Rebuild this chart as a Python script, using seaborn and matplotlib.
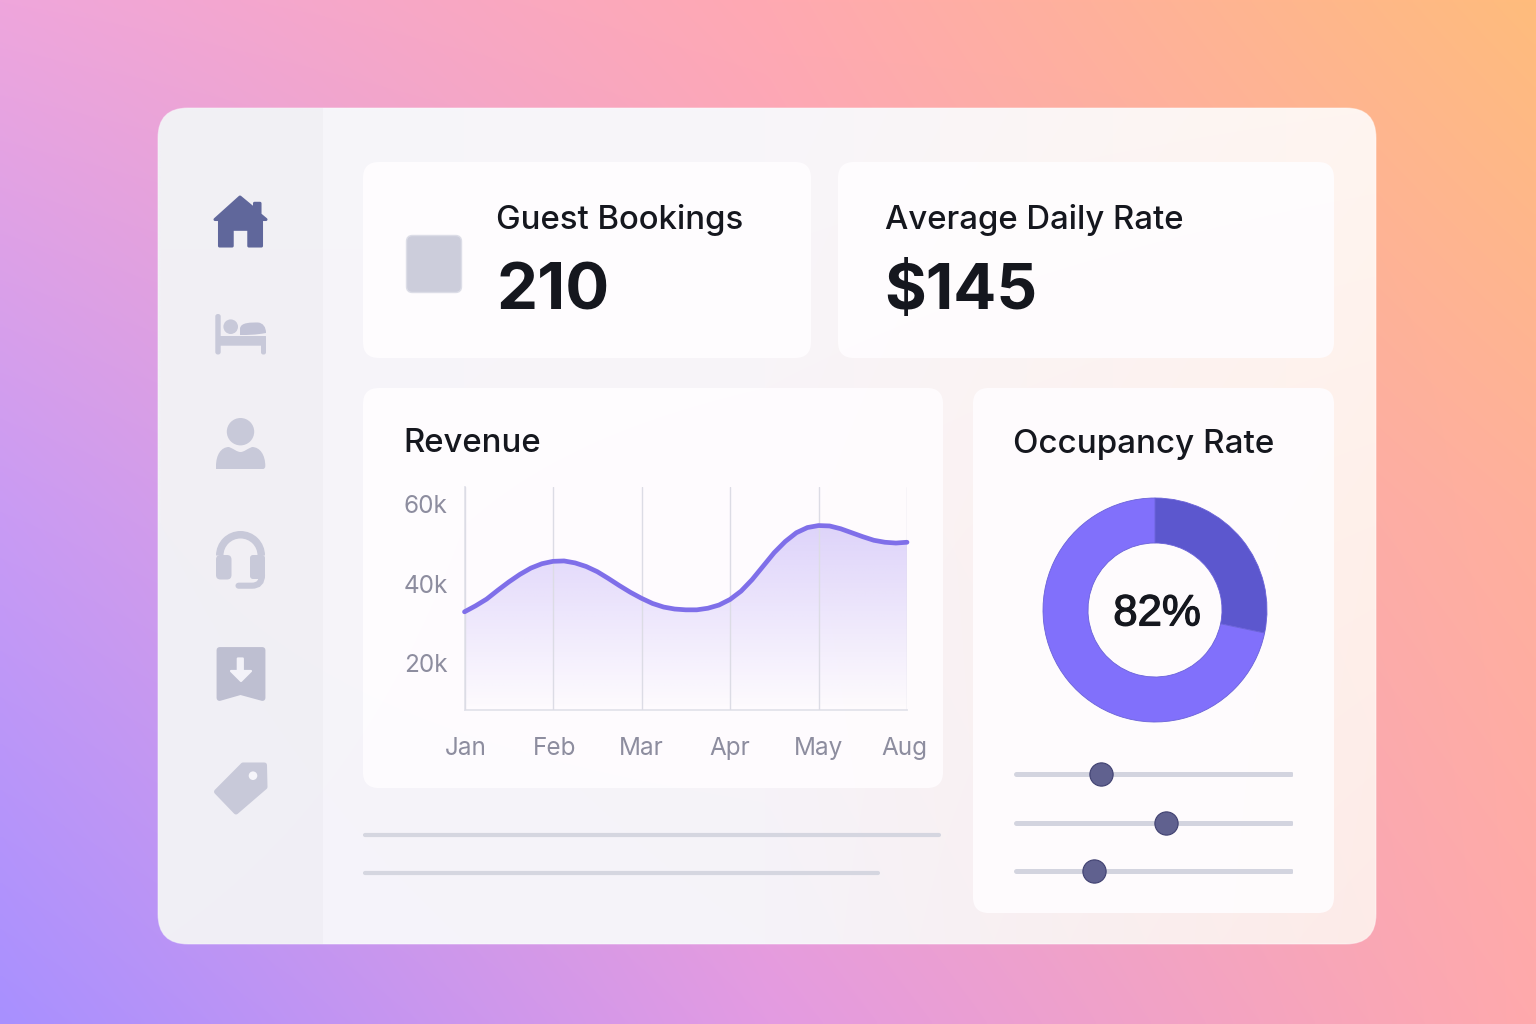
import numpy as np
import pandas as pd
import matplotlib
matplotlib.use("Agg")
import matplotlib.pyplot as plt
import matplotlib.patheffects as pe
from matplotlib.transforms import ScaledTranslation
import seaborn as sns
from matplotlib.patches import FancyBboxPatch, Polygon, Circle, Wedge, PathPatch
from matplotlib.path import Path
from matplotlib.colors import to_rgb

# ---------- data ----------
months = ["Jan", "Feb", "Mar", "Apr", "May", "Aug"]
revenue_pos = [i / 8 for i in range(41)]
revenue_k = [32.9, 34.4, 36.1, 38.3, 40.4, 42.3, 43.9, 45.0, 45.6, 45.7, 45.2, 44.3, 43.0, 41.3,
             39.5, 37.8, 36.3, 35.0, 34.1, 33.6, 33.4, 33.4, 33.8, 34.6, 36.0, 38.1, 41.0, 44.4,
             47.8, 50.6, 52.8, 54.1, 54.6, 54.5, 53.8, 52.8, 51.8, 50.9, 50.4, 50.2, 50.4]
revenue_ticks = [20, 40, 60]
revenue_ticklabels = ["20k", "40k", "60k"]
donut_shares = [28.3, 71.7]
donut_label = "82%"
slider_values = [0.312, 0.545, 0.287]
kpi_titles = ["Guest Bookings", "Average Daily Rate"]
kpi_values = ["210", "$145"]

W, H = 1536, 1024
sns.set_theme(style="white")
plt.rcParams["font.family"] = ["Inter", "Liberation Sans", "DejaVu Sans"]

fig = plt.figure(figsize=(W / 100, H / 100), dpi=100)
bg = fig.add_axes([0, 0, 1, 1], zorder=0)
bg.set_xlim(0, W); bg.set_ylim(H, 0); bg.axis("off")


def pax(x0, y0, x1, y1, **kw):
    return fig.add_axes([x0 / W, 1 - y1 / H, (x1 - x0) / W, (y1 - y0) / H], **kw)


def grid_image(rows, nx, ny):
    cols = np.array([[to_rgb(c) for c in r] for r in rows])
    yy = np.linspace(0, 2, ny)
    xx = np.linspace(0, 2, nx)
    img = np.zeros((ny, nx, 3))
    for c in range(3):
        for i, y in enumerate(yy):
            row = [np.interp(y, [0, 1, 2], cols[:, j, c]) for j in range(3)]
            img[i, :, c] = np.interp(xx, [0, 1, 2], row)
    return img


# ---------- background gradient ----------
bg.imshow(grid_image([["#EFA6DC", "#FFA9B2", "#FFBC7C"],
                      ["#C99BF4", "#F5A2C8", "#FFB09C"],
                      ["#A890FF", "#E39BE2", "#FFA9AC"]], W // 4, H // 4),
          extent=(0, W, H, 0), aspect="auto", interpolation="bilinear", zorder=0)
bg.set_xlim(0, W); bg.set_ylim(H, 0)


def rrect(ax, x0, y0, x1, y1, r, **kw):
    kw.setdefault("linewidth", 0)
    p = FancyBboxPatch((x0, y0), x1 - x0, y1 - y0, boxstyle=f"round,pad=0,rounding_size={r}", **kw)
    ax.add_patch(p)
    return p


# ---------- panel and sidebar ----------
panel = rrect(bg, 158, 108, 1376, 944, 30, facecolor="none", zorder=1)
pim = bg.imshow(grid_image([["#F6F5FA", "#F8F6FA", "#FFF5F0"],
                            ["#F6F5FA", "#F8F3F7", "#FFF0EA"],
                            ["#F5F4FB", "#F5F3F9", "#FDEBE8"]], 200, 140),
                extent=(158, 1376, 944, 108), aspect="auto", interpolation="bilinear", zorder=1)
pim.set_clip_path(panel)
bg.set_xlim(0, W); bg.set_ylim(H, 0)
rrect(bg, 158, 108, 1376, 944, 30, facecolor="none", edgecolor=(1, 1, 1, 0.45), linewidth=0.8, zorder=2)
side = bg.add_patch(plt.Rectangle((158, 108), 165, 836, facecolor="#CFCFD8", alpha=0.12, linewidth=0, zorder=2))
side.set_clip_path(panel)

# ---------- cards ----------
for box in [(363, 162, 811, 358), (838, 162, 1334, 358), (363, 388, 943, 788), (973, 388, 1334, 913)]:
    rrect(bg, *box, 16, facecolor="#FFFDFF", alpha=0.90, zorder=3)

# KPI placeholder
rrect(bg, 406.5, 235.5, 461.5, 292.5, 6, facecolor="#CCCDDB", edgecolor="#DCDDE7", linewidth=1, zorder=4)

INK = "#15171E"
bg.text(496, 229.5, kpi_titles[0], fontsize=23.7, color=INK, fontweight="medium", va="baseline", zorder=5)
bg.text(885, 229.5, kpi_titles[1], fontsize=23.7, color=INK, fontweight="medium", va="baseline", zorder=5)
bg.text(497, 309, kpi_values[0], fontsize=47, color=INK, fontweight="bold", va="baseline", zorder=5)
bg.text(884, 309, kpi_values[1], fontsize=46, color=INK, fontweight="bold", va="baseline", zorder=5)
bg.text(403, 452.5, "Revenue", fontsize=23.7, color=INK, fontweight="medium", va="baseline", zorder=5)
bg.text(1013, 452.5, "Occupancy Rate", fontsize=23.9, color=INK, fontweight="medium", va="baseline", zorder=5)

# ---------- bottom placeholder lines ----------
for x1, y in [(941, 835), (880, 873)]:
    bg.plot([365, x1 - 2], [y, y], color="#D5D6E0", lw=3, solid_capstyle="round", zorder=4)

# ---------- sidebar icons ----------
DARK = "#60679B"
SOFT = "#C8C9D9"
ZI = 6


def poly(pts, color=SOFT, lw=2.0):
    bg.add_patch(Polygon(pts, closed=True, facecolor=color, edgecolor=color, linewidth=lw, joinstyle="round", zorder=ZI))


# house
poly([(240, 197), (254.5, 209), (254.5, 203.3), (260, 203.3), (260, 214.5), (266, 219.5),
      (261.5, 219.5), (261.5, 246), (248.8, 246), (248.8, 229.3), (232.2, 229.3), (232.2, 246),
      (219.5, 246), (219.5, 219.5), (215, 219.5)], color=DARK, lw=2.2)

# bed
rrect(bg, 215.3, 314, 220.7, 354.5, 2.5, facecolor=SOFT, zorder=ZI)
rrect(bg, 219, 336, 266, 345.7, 0.5, facecolor=SOFT, zorder=ZI)
rrect(bg, 261, 340, 266, 354.5, 2.2, facecolor=SOFT, zorder=ZI)
bg.add_patch(Circle((230.7, 326.7), 7.3, facecolor=SOFT, linewidth=0, zorder=ZI))
bg.add_patch(PathPatch(Path([(240, 329), (240, 322), (252, 322.5), (258, 322.5), (263, 323), (266, 327), (266, 333),
                             (255, 335), (248, 335), (240, 335), (240, 329)],
                            [Path.MOVETO, Path.CURVE4, Path.CURVE4, Path.CURVE4, Path.CURVE4, Path.CURVE4, Path.CURVE4,
                             Path.CURVE4, Path.CURVE4, Path.CURVE4, Path.CLOSEPOLY]),
                       facecolor="#C2C3D6", linewidth=0, zorder=ZI))

# person
bg.add_patch(Circle((240.5, 431.7), 13.7, facecolor=SOFT, linewidth=0, zorder=ZI))
bg.add_patch(PathPatch(Path([(216, 466), (216, 455), (221, 447), (229, 447), (234, 449), (237, 452), (240.5, 452),
                             (244, 452), (247, 449), (252, 447), (260, 447), (265.3, 455), (265.3, 466),
                             (265.3, 469), (263, 469), (262, 469), (219, 469), (219, 469), (216, 469), (216, 466), (216, 466)],
                            [Path.MOVETO] + [Path.CURVE4] * 12 + [Path.CURVE3, Path.CURVE3, Path.LINETO, Path.CURVE4, Path.CURVE4, Path.CURVE4, Path.LINETO, Path.CLOSEPOLY]),
                       facecolor=SOFT, linewidth=0, zorder=ZI))

# headset
bg.add_patch(Wedge((240.5, 555.5), 24.5, 180, 360, width=7.5, facecolor=SOFT, linewidth=0, zorder=ZI))
rrect(bg, 216, 555, 231.5, 579.5, 4.5, facecolor=SOFT, zorder=ZI)
rrect(bg, 250, 555, 265, 579, 3, facecolor=SOFT, zorder=ZI)
bg.add_patch(PathPatch(Path([(238.5, 585.7), (252, 585.7), (262, 585.7), (262, 575)],
                            [Path.MOVETO, Path.LINETO, Path.CURVE3, Path.CURVE3]),
                       facecolor="none", edgecolor=SOFT, linewidth=4.4, capstyle="round", zorder=ZI))

# bookmark with arrow
poly([(219.5, 650), (262.5, 650), (262.5, 698), (240.5, 692), (219.5, 698)], color="#BEBFD1", lw=4.2)
poly([(237.8, 658.5), (242.8, 658.5), (242.8, 671), (251, 671), (241, 681), (231, 671), (237.8, 671)], color="#F3F2F8", lw=1.6)

# tag
poly([(243, 765), (264.5, 765), (265, 787), (236, 812), (216.5, 791.7)], color=SOFT, lw=3.6)
bg.add_patch(Circle((253, 775.7), 4.3, facecolor="#F6F5FA", linewidth=0, zorder=ZI + 1))

# ---------- revenue chart ----------
TICK = "#8D8D9F"
ax = pax(464.5, 487, 907, 710, zorder=2)
ax.patch.set_alpha(0)
x_lim, y_lim = (0, 5), (8.2, 64.3)
df = pd.DataFrame({"pos": revenue_pos, "revenue": revenue_k})
fill = ax.fill_between(df["pos"], y_lim[0], df["revenue"], color="none", linewidth=0)
grad = np.zeros((128, 2, 4))
grad[..., :3] = to_rgb("#7C5CF0")
grad[..., 3] = np.linspace(0.25, 0.0, 128)[:, None]
im = ax.imshow(grad, extent=(0, 5, y_lim[0], 54.5), aspect="auto", origin="upper", interpolation="bilinear", zorder=1)
im.set_clip_path(fill.get_paths()[0], transform=ax.transData)
sns.lineplot(data=df, x="pos", y="revenue", ax=ax, color="#7F6FE9", linewidth=3.4, zorder=4, legend=False,
             solid_capstyle="round", solid_joinstyle="round", errorbar=None)
ax.lines[-1].set_clip_on(False)
ax.set_xlim(*x_lim); ax.set_ylim(*y_lim)
ax.set_xticks(range(len(months)), months)
ax.set_yticks(revenue_ticks, revenue_ticklabels)
ax.set_xlabel(""); ax.set_ylabel("")
ax.grid(axis="x", color="#DCDCE5", linewidth=1.0, zorder=2)
ax.grid(axis="y", visible=False)
ax.set_axisbelow(False)
for s in ["top", "right"]:
    ax.spines[s].set_visible(False)
for s in ["left", "bottom"]:
    ax.spines[s].set_color("#E3E3EB")
    ax.spines[s].set_linewidth(1.3)
ax.tick_params(axis="x", length=0, pad=19.5, labelsize=17.5, labelcolor=TICK)
ax.tick_params(axis="y", length=0, pad=12, labelsize=17.5, labelcolor=TICK)
for lab, dx in zip(ax.get_xticklabels(), [1, 2, 0, 0, 0, -2.3]):
    lab.set_transform(lab.get_transform() + ScaledTranslation(dx / 100, 0, fig.dpi_scale_trans))

# ---------- donut ----------
dax = pax(1043, 498, 1267, 722, zorder=2)
dax.patch.set_alpha(0)
dax.pie(donut_shares, colors=["#5C57CE", "#8170FB"], startangle=90, counterclock=False, radius=1.0,
        wedgeprops=dict(width=45 / 112, edgecolor="#6A62D8", linewidth=0.6))
dax.set_xlim(-1, 1); dax.set_ylim(-1, 1)
dax.text(0.018, -0.035, donut_label, ha="center", va="center", fontsize=31.5, color=INK,
         family=["Liberation Sans", "DejaVu Sans"],
         path_effects=[pe.withStroke(linewidth=0.9, foreground=INK)])

# ---------- sliders ----------
sax = pax(1014, 750, 1293, 895, zorder=2)
sax.patch.set_alpha(0)
sdf = pd.DataFrame({"value": slider_values, "row": [23.7, 72.6, 121]})
for y in sdf["row"]:
    sax.plot([0.006, 0.994], [y, y], color="#D3D4DF", lw=3.6, solid_capstyle="round", zorder=1)
sns.scatterplot(data=sdf, x="value", y="row", ax=sax, s=280, color="#60618F", edgecolor="#3F4070", linewidth=0.8, zorder=3, legend=False)
sax.set_xlim(0, 1); sax.set_ylim(145, 0)
sax.axis("off")

fig.savefig("out.png", dpi=100)
